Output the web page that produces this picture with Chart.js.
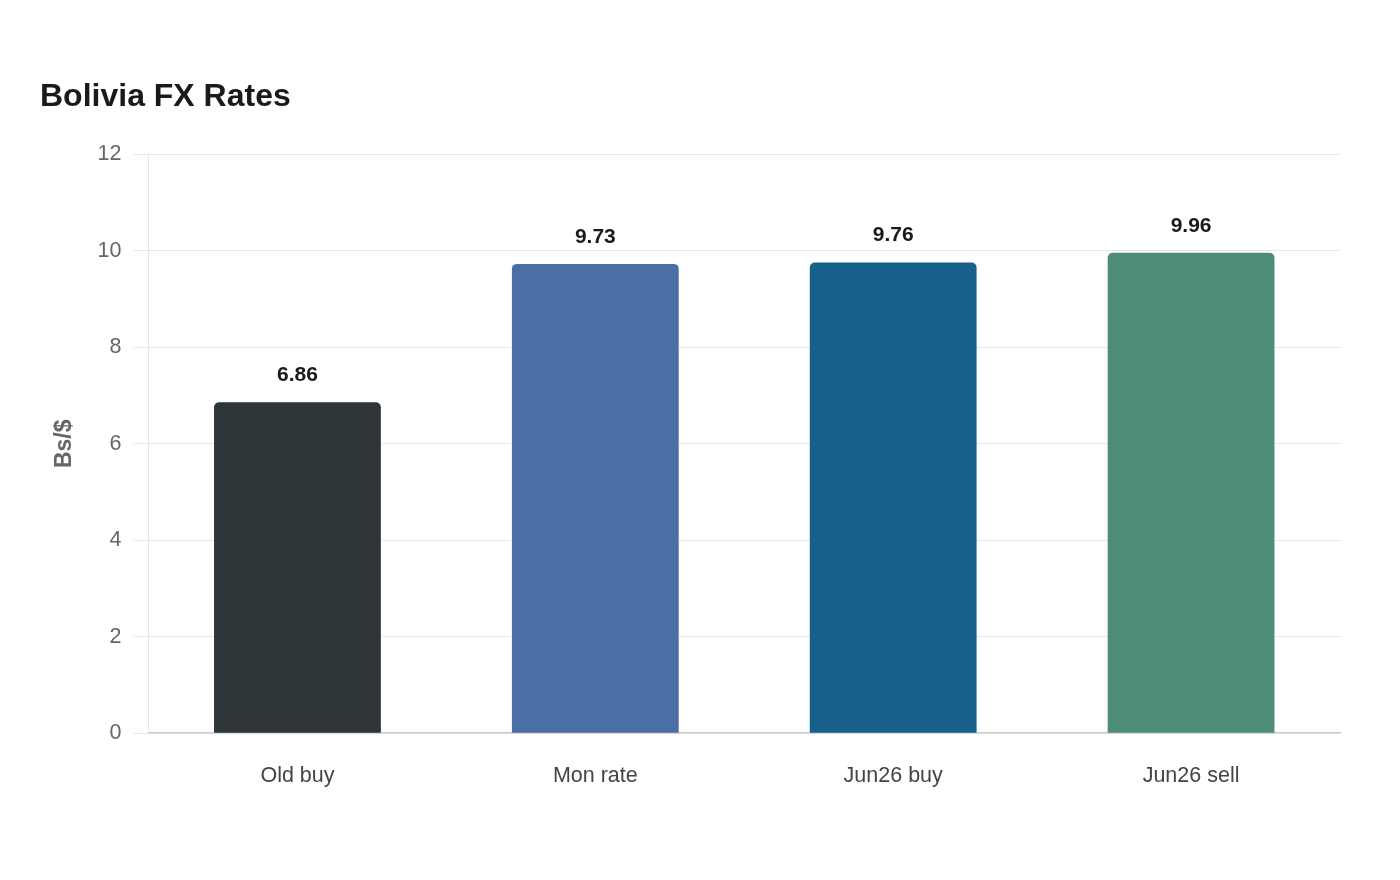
<!DOCTYPE html>
<html>
<head>
<meta charset="utf-8">
<script src="https://cdn.jsdelivr.net/npm/chart.js@4"></script>
<style>
  html, body { margin: 0; padding: 0; background: #fff; }
  #wrap { width: 1400px; height: 880px; }
</style>
</head>
<body>
<div id="wrap"><canvas id="fx"></canvas></div>
<script>
const categorias = ["Old buy", "Mon rate", "Jun26 buy", "Jun26 sell"];
const tasas = [6.86, 9.73, 9.76, 9.96];
const colores = ["#2e3538", "#4a6fa5", "#17608a", "#4e8c7a"];

// etiquetas de valor encima de cada barra
const etiquetasValor = {
  id: 'etiquetasValor',
  afterDatasetsDraw(chart) {
    const ctx = chart.ctx;
    const meta = chart.getDatasetMeta(0);
    ctx.save();
    ctx.font = 'bold 21px "Liberation Sans", Arial, sans-serif';
    ctx.fillStyle = '#1a1a1a';
    ctx.textAlign = 'center';
    ctx.textBaseline = 'middle';
    meta.data.forEach((bar, i) => {
      ctx.fillText(tasas[i].toFixed(2), bar.x, bar.y - 27);
    });
    ctx.restore();
  }
};

Chart.defaults.font.family = '"Liberation Sans", Arial, sans-serif';

new Chart(document.getElementById('fx').getContext('2d'), {
  type: 'bar',
  data: {
    labels: categorias,
    datasets: [{
      data: tasas,
      backgroundColor: colores,
      borderRadius: { topLeft: 5, topRight: 5 },
      borderSkipped: 'bottom',
      categoryPercentage: 0.8,
      barPercentage: 0.7
    }]
  },
  options: {
    responsive: true,
    maintainAspectRatio: false,
    animation: false,
    layout: { padding: { left: 40, right: 60, top: 78, bottom: 69 } },
    plugins: {
      legend: { display: false },
      tooltip: { enabled: false },
      title: {
        display: true,
        text: 'Bolivia FX Rates',
        align: 'start',
        color: '#1a1a1a',
        font: { size: 32, weight: 'bold' },
        padding: { top: 0, bottom: 38 }
      }
    },
    scales: {
      x: {
        grid: { display: false },
        border: { color: '#cccccc', width: 1.5 },
        ticks: { color: '#444444', font: { size: 21.5 }, padding: 22 }
      },
      y: {
        min: 0,
        max: 12,
        ticks: { stepSize: 2, color: '#666666', font: { size: 21.5 }, padding: 12 },
        grid: { color: '#e8e8e8', tickLength: 15 },
        border: { color: '#e5e5e5' },
        title: {
          display: true,
          text: 'Bs/$',
          color: '#666666',
          font: { size: 23, weight: 'bold' },
          padding: { top: 11, bottom: 7 }
        }
      }
    }
  },
  plugins: [etiquetasValor]
});
</script>
</body>
</html>
